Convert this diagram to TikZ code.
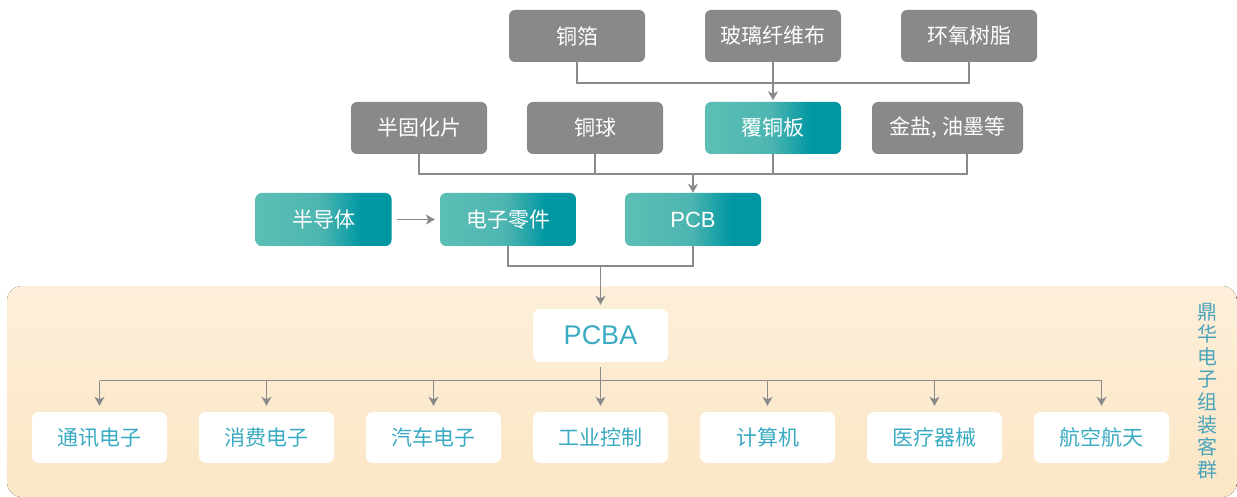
\documentclass[tikz,border=0pt]{standalone}
\usepackage{fontspec}
\setmainfont{Noto Sans CJK SC}
\newfontfamily\lat{Liberation Sans}
\usetikzlibrary{arrows.meta,calc}
\definecolor{graybox}{HTML}{898989}
\definecolor{connc}{HTML}{8A8A8A}
\definecolor{tealA}{HTML}{5CBFB5}
\definecolor{tealB}{HTML}{4DB5B1}
\definecolor{tealC}{HTML}{0097A2}
\definecolor{panelT}{HTML}{FDEFDA}
\definecolor{panelB}{HTML}{FBE6C5}
\definecolor{btxt}{HTML}{3AABC2}
\definecolor{vtxt}{HTML}{4AA4BB}
\pgfdeclarehorizontalshading{tealgrad}{100bp}{color(0bp)=(tealA); color(25bp)=(tealA); color(49bp)=(tealB); color(64bp)=(tealC); color(75bp)=(tealC); color(100bp)=(tealC)}
\tikzset{
  graynode/.style={fill=graybox, rounded corners=6pt, text=white, font=\fontsize{21}{24}\selectfont, minimum width=136pt, minimum height=52pt, inner sep=0pt},
  tealnode/.style={shading=tealgrad, rounded corners=6pt, text=white, font=\fontsize{21}{24}\selectfont, minimum width=136pt, minimum height=52pt, inner sep=0pt},
  whitenode/.style={fill=white, rounded corners=7pt, text=btxt, font=\fontsize{21}{24}\selectfont, minimum width=135pt, minimum height=51pt, inner sep=0pt},
  conn/.style={draw=connc, line width=1.3pt},
  arr/.style={conn, -{Stealth[length=9pt,width=10pt,inset=2.5pt]}},
}
\begin{document}
\begin{tikzpicture}[x=1pt,y=-1pt]
\useasboundingbox (0,0) rectangle (1237,497);
% panel
\fill[top color=panelT, bottom color=panelB, rounded corners=15pt] (7,286) rectangle (1237,497);
% top row
\node[graynode] (cf) at (577,36) {铜箔};
\node[graynode] (bl) at (773,36) {玻璃纤维布};
\node[graynode] (ep) at (969,36) {环氧树脂};
% second row
\node[graynode] (bg) at (419,128) {半固化片};
\node[graynode] (tq) at (595,128) {铜球};
\node[tealnode] (fcb) at (773,128) {覆铜板};
\node[graynode, minimum width=151pt] (jy) at (947.5,128) {金盐, 油墨等};
% third row
\node[tealnode, minimum height=53pt] (bdt) at (323.5,219.5) {半导体};
\node[tealnode, minimum height=53pt] (dz) at (508,219.5) {电子零件};
\node[tealnode, minimum height=53pt, font=\lat\fontsize{22}{24}\selectfont] (pcb) at (693,219.5) {PCB};
% PCBA
\node[whitenode, font=\lat\fontsize{27}{30}\selectfont, minimum height=53pt] (pcba) at (600.5,335.5) {PCBA};
% bottom row
\node[whitenode] (b1) at (99.5,437.5) {通讯电子};
\node[whitenode] (b2) at (266.5,437.5) {消费电子};
\node[whitenode] (b3) at (433.5,437.5) {汽车电子};
\node[whitenode] (b4) at (600.5,437.5) {工业控制};
\node[whitenode] (b5) at (767.5,437.5) {计算机};
\node[whitenode] (b6) at (934.5,437.5) {医疗器械};
\node[whitenode] (b7) at (1101.5,437.5) {航空航天};
% vertical label
\node[text=vtxt, font=\fontsize{20}{22.6}\selectfont, align=center, inner sep=0pt] (vl) at (1207,391) {鼎\\华\\电\\子\\组\\装\\客\\群};
% junction levels
\coordinate (h1) at (0,83);
\coordinate (h2) at (0,174);
\coordinate (h3) at (0,266);
\coordinate (h4) at (0,380.5);
\coordinate (jyc) at ([xshift=19.5pt]jy.south);
% connectors top
\draw[conn] (cf.south) |- (h1 -| ep.south) -- (ep.south);
\draw[arr, shorten >=1.5pt] (bl.south) -- (fcb.north);
% second
\draw[conn] (bg.south) |- (h2 -| jyc) -- (jyc);
\draw[conn] (tq.south) -- (tq.south |- h2);
\draw[conn] (fcb.south) -- (fcb.south |- h2);
\draw[arr] (pcb.north |- h2) -- (pcb.north);
% third
\draw[arr, shorten <=5pt, shorten >=5pt] (bdt.east) -- (dz.west);
\draw[conn] (dz.south) |- (h3 -| pcb.south) -- (pcb.south);
\draw[arr, shorten >=4pt] (pcba.north |- h3) -- (pcba.north);
% bottom
\draw[conn] (b1.north |- h4) -- (b7.north |- h4);
\draw[arr, shorten <=5pt, shorten >=6pt] (pcba.south) -- (b4.north);
\foreach \b in {b1,b2,b3,b5,b6,b7}{
  \draw[arr, shorten >=6pt] (\b.north |- h4) -- (\b.north);
}
\end{tikzpicture}
\end{document}
